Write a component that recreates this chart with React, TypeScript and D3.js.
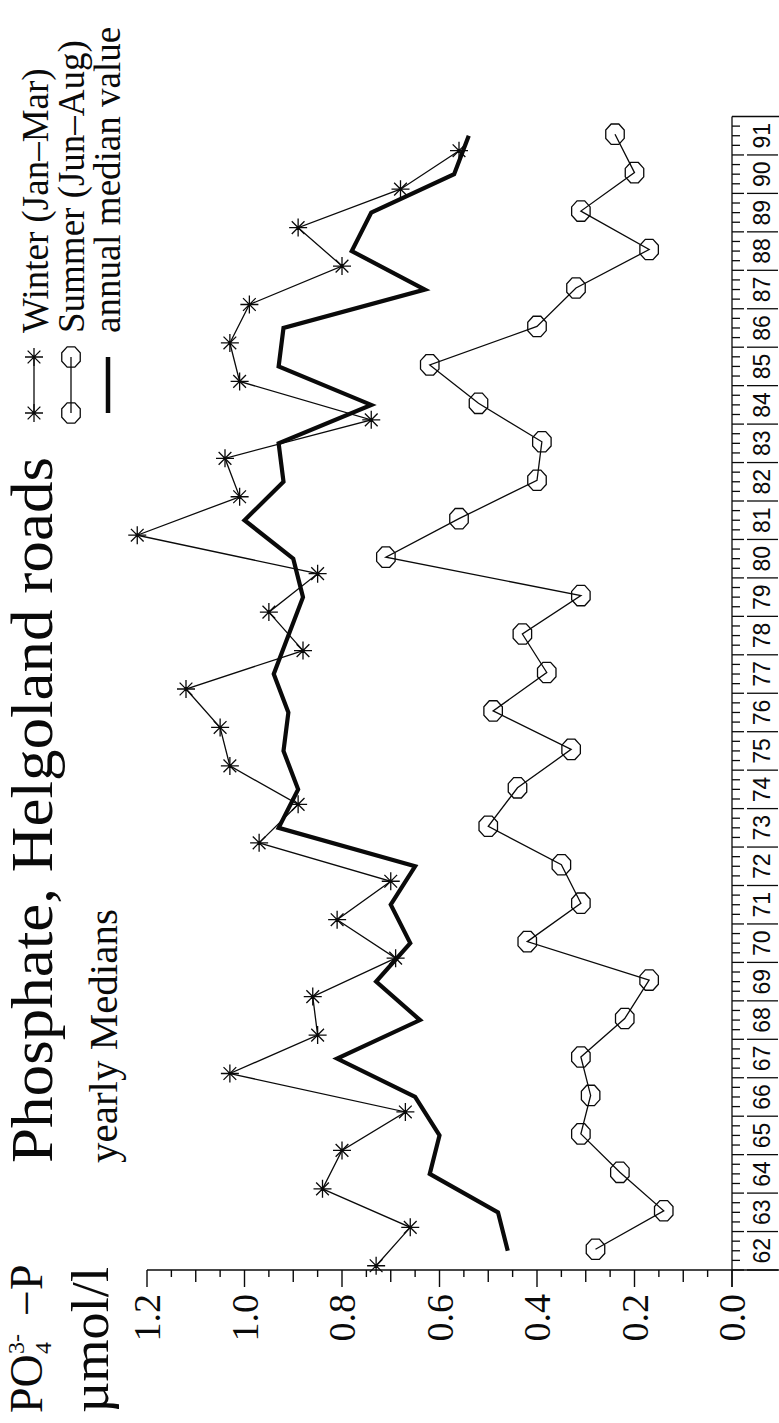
import React from "react";
import * as d3 from "d3";

// Yearly medians of phosphate (PO4-P, µmol/l) at Helgoland Roads, 1962–1991
const years = [62, 63, 64, 65, 66, 67, 68, 69, 70, 71, 72, 73, 74, 75, 76, 77, 78, 79, 80, 81, 82, 83, 84, 85, 86, 87, 88, 89, 90, 91];
const winter = [0.73, 0.66, 0.84, 0.8, 0.67, 1.03, 0.85, 0.86, 0.69, 0.81, 0.7, 0.97, 0.89, 1.03, 1.05, 1.12, 0.88, 0.95, 0.85, 1.22, 1.01, 1.04, 0.74, 1.01, 1.03, 0.99, 0.8, 0.89, 0.68, 0.56];
const summer = [0.28, 0.14, 0.23, 0.31, 0.29, 0.31, 0.22, 0.17, 0.42, 0.31, 0.35, 0.5, 0.44, 0.33, 0.49, 0.38, 0.43, 0.31, 0.71, 0.56, 0.4, 0.39, 0.52, 0.62, 0.4, 0.32, 0.17, 0.31, 0.2, 0.24];
const annual = [0.46, 0.48, 0.62, 0.6, 0.65, 0.81, 0.64, 0.73, 0.66, 0.7, 0.65, 0.93, 0.89, 0.92, 0.91, 0.94, 0.91, 0.88, 0.9, 1.0, 0.92, 0.93, 0.74, 0.93, 0.92, 0.63, 0.78, 0.74, 0.57, 0.54];
const valueTickLabels = ["0.0", "0.2", "0.4", "0.6", "0.8", "1.0", "1.2"];
const legendLabels = ["Winter (Jan\u2013Mar)", "Summer (Jun\u2013Aug)", "annual median value"];

// position of each series within its year (fraction of the year)
const WINTER_OFFSET = 0.11;
const SUMMER_OFFSET = 0.54;
const ANNUAL_OFFSET = 0.5;

const W = 779;
const H = 1423;
const SERIF = "Liberation Serif, Times New Roman, serif";
const SANS = "Liberation Sans, Arial, sans-serif";
const INK = "#0a0a0a";

// The chart is drawn turned a quarter turn: values run right-to-left, years bottom-to-top.
const vScale = d3.scaleLinear().domain([0, 1.2]).range([732, 147]);
const yScale = d3.scaleLinear().domain([62, 92]).range([1270, 116.5]);
const AXIS_Y = 1270;
const YEAR_X = 732;

function asterisk(cx: number, cy: number, r: number) {
  let d = "";
  for (let k = 0; k < 4; k++) {
    const a = (k * Math.PI) / 4;
    const dx = r * Math.cos(a);
    const dy = r * Math.sin(a);
    d += `M${cx - dx},${cy - dy}L${cx + dx},${cy + dy}`;
  }
  return d;
}

function octagon(cx: number, cy: number, rx: number, ry: number) {
  const pts: string[] = [];
  for (let k = 0; k < 8; k++) {
    const a = Math.PI / 8 + (k * Math.PI) / 4;
    pts.push(`${cx + rx * Math.cos(a)},${cy + ry * Math.sin(a)}`);
  }
  return `M${pts.join("L")}Z`;
}

export default function App() {
  const line = d3
    .line<[number, number]>()
    .x((d) => d[0])
    .y((d) => d[1]);

  const winterPts: [number, number][] = years.map((yr, i) => [vScale(winter[i]), yScale(yr + WINTER_OFFSET)]);
  const summerPts: [number, number][] = years.map((yr, i) => [vScale(summer[i]), yScale(yr + SUMMER_OFFSET)]);
  const annualPts: [number, number][] = years.map((yr, i) => [vScale(annual[i]), yScale(yr + ANNUAL_OFFSET)]);

  const ticks = vScale.ticks(24);
  const tickLen = (v: number) => {
    const t = Math.round(v * 100);
    if (t % 20 === 0) return 17;
    if (t % 10 === 0) return 12;
    return 7;
  };
  const majorTicks = vScale.ticks(6);

  const yearTop = yScale(92);

  // legend geometry
  const legendRows = [
    { x: 34, base: 48 },
    { x: 71, base: 84 },
    { x: 108, base: 120 },
  ];
  const legY1 = 413;
  const legY2 = 357;

  return (
    <svg
      width={W}
      height={H}
      viewBox={`0 0 ${W} ${H}`}
      style={{ position: "absolute", left: 0, top: 0, background: "#fff" }}
    >
      <rect x={0} y={0} width={W} height={H} fill="#fff" />

      {/* title block */}
      <text
        transform={`translate(52,1163) rotate(-90)`}
        fontFamily={SERIF}
        fontSize={60}
        textLength={706}
        lengthAdjust="spacingAndGlyphs"
        fill={INK}
      >
        Phosphate, Helgoland roads
      </text>
      <text
        transform={`translate(117,1163) rotate(-90)`}
        fontFamily={SERIF}
        fontSize={41}
        fill={INK}
      >
        yearly Medians
      </text>

      {/* legend */}
      <g stroke={INK} fill="none">
        <line x1={legendRows[0].x} x2={legendRows[0].x} y1={legY1} y2={legY2} strokeWidth={1.3} />
        <path d={asterisk(legendRows[0].x, legY1, 9) + asterisk(legendRows[0].x, legY2, 9)} strokeWidth={1.3} />
        <line x1={legendRows[1].x} x2={legendRows[1].x} y1={legY1} y2={legY2} strokeWidth={1.3} />
        <path d={octagon(legendRows[1].x, legY1, 10, 11) + octagon(legendRows[1].x, legY2, 10, 11)} strokeWidth={1.3} />
        <line x1={legendRows[2].x} x2={legendRows[2].x} y1={legY1} y2={legY2} strokeWidth={4.5} />
      </g>
      {legendLabels.map((t, i) => (
        <text
          key={t}
          transform={`translate(${legendRows[i].base},333) rotate(-90)`}
          fontFamily={SERIF}
          fontSize={37}
          fill={INK}
        >
          {t}
        </text>
      ))}

      {/* unit label */}
      <g transform="translate(42,1413) rotate(-90)" fontFamily={SERIF} fill={INK}>
        <text x={0} y={0} fontSize={46}>PO</text>
        <text x={59} y={-18} fontSize={24}>3-</text>
        <text x={59} y={9} fontSize={24}>4</text>
        <text x={97} y={0} fontSize={46}>{"\u2212P"}</text>
      </g>
      <text
        transform="translate(108,1413) rotate(-90)"
        fontFamily={SERIF}
        fontSize={52}
        textLength={146}
        lengthAdjust="spacingAndGlyphs"
        fill={INK}
      >
        {"\u00b5mol/l"}
      </text>

      {/* value axis */}
      <g stroke={INK} strokeWidth={1.4}>
        <line x1={vScale(1.2)} x2={W} y1={AXIS_Y} y2={AXIS_Y} />
        {ticks.map((v) => (
          <line key={v} x1={vScale(v)} x2={vScale(v)} y1={AXIS_Y} y2={AXIS_Y + tickLen(v)} />
        ))}
      </g>
      {majorTicks.map((v, i) => (
        <text
          key={v}
          transform={`translate(${vScale(v) + 13},1294) rotate(-90)`}
          textAnchor="end"
          fontFamily={SERIF}
          fontSize={38}
          fill={INK}
        >
          {valueTickLabels[i]}
        </text>
      ))}

      {/* year axis strip */}
      <g stroke={INK} strokeWidth={1.3}>
        <line x1={YEAR_X} x2={YEAR_X} y1={AXIS_Y + 17} y2={yearTop} />
        <line x1={YEAR_X} x2={W} y1={yearTop} y2={yearTop} />
        {years.map((yr) => (
          <g key={yr}>
            <line x1={YEAR_X} x2={YEAR_X + 12} y1={yScale(yr)} y2={yScale(yr)} />
            <line x1={747} x2={778} y1={yScale(yr)} y2={yScale(yr)} />
            {[0.25, 0.5, 0.75].map((q) => (
              <line key={q} x1={YEAR_X} x2={YEAR_X + 8} y1={yScale(yr + q)} y2={yScale(yr + q)} />
            ))}
          </g>
        ))}
      </g>
      {years.map((yr) => (
        <text
          key={yr}
          transform={`translate(770,${yScale(yr + 0.5)}) rotate(-90)`}
          textAnchor="middle"
          fontFamily={SANS}
          fontSize={23}
          fill={INK}
        >
          {String(yr)}
        </text>
      ))}

      {/* annual median */}
      <path d={line(annualPts) || ""} fill="none" stroke={INK} strokeWidth={4.2} strokeLinejoin="miter" />

      {/* winter medians */}
      <path d={line(winterPts) || ""} fill="none" stroke={INK} strokeWidth={1.3} />
      <path d={winterPts.map((p) => asterisk(p[0], p[1], 9)).join("")} fill="none" stroke={INK} strokeWidth={1.3} />

      {/* summer medians */}
      <path d={line(summerPts) || ""} fill="none" stroke={INK} strokeWidth={1.3} />
      <path d={summerPts.map((p) => octagon(p[0], p[1], 10, 11)).join("")} fill="none" stroke={INK} strokeWidth={1.3} />
    </svg>
  );
}
